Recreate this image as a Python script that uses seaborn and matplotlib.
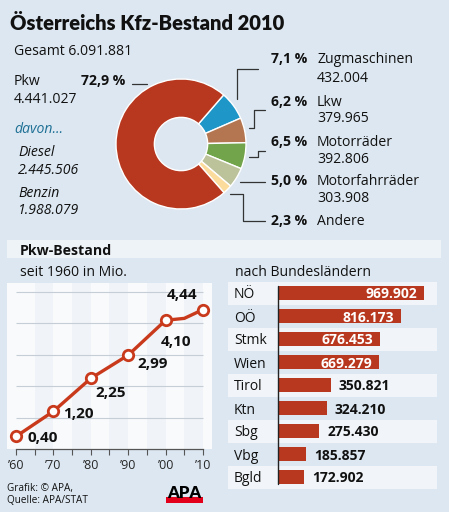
import matplotlib
matplotlib.use("Agg")
import matplotlib.pyplot as plt
import matplotlib.transforms as mtransforms
import seaborn as sns
import numpy as np

# ---------------- data ----------------
total_label = "Gesamt 6.091.881"
pie_names = ["Zugmaschinen", "Lkw", "Motorräder", "Motorfahrräder", "Andere", "Pkw"]
pie_pct = [7.1, 6.2, 6.5, 5.0, 2.3, 72.9]
pie_counts = ["432.004", "379.965", "392.806", "303.908", "", "4.441.027"]
diesel = "2.445.506"
benzin = "1.988.079"

years = [1960, 1970, 1980, 1985, 1990, 2000, 2005, 2010]
pkw_mio = [0.40, 1.20, 2.25, 2.62, 2.99, 4.10, 4.16, 4.44]
labelled = [True, True, True, False, True, True, False, True]
tick_years = [1960, 1970, 1980, 1990, 2000, 2010]
tick_labels = ["’60", "’70", "’80", "’90", "’00", "’10"]

states = ["NÖ", "OÖ", "Stmk", "Wien", "Tirol", "Ktn", "Sbg", "Vbg", "Bgld"]
state_pkw = [969902, 816173, 676453, 669279, 350821, 324210, 275430, 185857, 172902]

# ---------------- style ----------------
sns.set_theme(style="white")
plt.rcParams["font.family"] = ["Open Sans", "DejaVu Sans"]
TITLE_FONT = ["Lato", "DejaVu Sans"]

BG = "#dce7f1"
BAND = "#f1f5f9"
RED = "#b8381f"
LINE_RED = "#c93a1c"
pie_colors = ["#1e97c8", "#b37650", "#72a44b", "#bcc39b", "#fbdc9d", "#b8381f"]
W, H = 449, 512
FS = 10.1

fig = plt.figure(figsize=(W / 100, H / 100), dpi=100, facecolor=BG)


def rect(x0, y0, x1, y1):
    return [x0 / W, 1 - y1 / H, (x1 - x0) / W, (y1 - y0) / H]


def fmt(v):
    return f"{v:,}".replace(",", ".")


# ---------------- donut ----------------
axp = fig.add_axes(rect(116, 79, 246, 209))
axp.pie(pie_pct, colors=pie_colors, startangle=49, counterclock=False, radius=1,
        wedgeprops=dict(width=0.59, edgecolor="white", linewidth=1.0))
axp.set_xlim(-1, 1)
axp.set_ylim(-1, 1)
axp.axis("off")

# ---------------- line chart ----------------
axl = fig.add_axes(rect(7, 283, 212, 449))
axl.set_facecolor("#f8fafc")
x_left = 1960 - 9 / 3.74
x_right = 2010 + 9 / 3.74
axl.set_xlim(x_left, x_right)
axl.set_ylim(0, 166 / 31.4)
for s in range(1965, 2010, 10):
    axl.axvspan(s, s + 5, color="#f0f4f8", zorder=0, lw=0)
axl.hlines([1, 2, 3, 4, 5], 1960, 2010, color="#c5cdd6", lw=0.8, zorder=1)
mark_idx = [i for i, f in enumerate(labelled) if f]
sns.lineplot(x=years, y=pkw_mio, ax=axl, color=LINE_RED, lw=2.4, estimator=None,
             marker="o", markevery=mark_idx, markersize=7.5, markerfacecolor="white",
             markeredgecolor=LINE_RED, markeredgewidth=2.0, clip_on=False, zorder=3)
for sp in ["top", "right", "left"]:
    axl.spines[sp].set_visible(False)
axl.spines["bottom"].set_bounds(1960, 2010)
axl.spines["bottom"].set_color("#555555")
axl.spines["bottom"].set_linewidth(0.9)
axl.set_xticks(tick_years)
axl.set_xticklabels(tick_labels)
axl.set_xticks(list(range(1965, 2010, 10)), minor=True)
axl.tick_params(axis="x", which="both", direction="out", length=4, width=0.8,
                color="#555555", labelsize=9, pad=3, bottom=True)
axl.set_yticks([])
axl.set_xlabel("")
axl.set_ylabel("")

# label offsets (px) relative to each labelled point
offsets = [(12, 0, "left"), (10, -1, "left"), (5, -13, "left"), (9, -7.5, "left"),
           (-5, -20, "left"), (-6, 16.5, "right")]
lab_years = [y for y, f in zip(years, labelled) if f]
lab_vals = [v for v, f in zip(pkw_mio, labelled) if f]
for (yr, v), (dx, dy, ha) in zip(zip(lab_years, lab_vals), offsets):
    axl.annotate(f"{v:.2f}".replace(".", ","), (yr, v), xytext=(dx * 0.72, dy * 0.72),
                 textcoords="offset points", ha=ha, va="center_baseline",
                 fontsize=11, fontweight="bold", color="#111111", annotation_clip=False)

# ---------------- bar chart ----------------
axb = fig.add_axes(rect(228, 281.5, 437, 488.5))
axb.set_facecolor("none")
px_per = 0.1505 / 1000
sns.barplot(x=state_pkw, y=states, orient="h", color=RED, saturation=1, width=0.57,
            ax=axb, zorder=3, edgecolor="none")
axb.set_ylim(8.5, -0.5)
axb.set_xlim(-(278 - 228) / px_per, (437 - 278) / px_per)
for i in range(0, len(states), 2):
    axb.axhspan(i - 0.5, i + 0.5, color=BAND, zorder=0, lw=0)
axb.axvline(0, ymin=0.022, ymax=0.978, color="#222222", lw=1.0, zorder=4)
axb.axis("off")
tr = mtransforms.blended_transform_factory(axb.transAxes, axb.transData)
for i, (st, v) in enumerate(zip(states, state_pkw)):
    axb.text(6 / 209, i, st, transform=tr, ha="left", va="center_baseline",
             fontsize=10, color="#111111")
    if v > 500000:
        axb.annotate(fmt(v), (v, i), xytext=(-5, 0), textcoords="offset points",
                     ha="right", va="center_baseline", fontsize=10,
                     fontweight="bold", color="white", zorder=5)
    else:
        axb.annotate(fmt(v), (v, i), xytext=(5.8, 0), textcoords="offset points",
                     ha="left", va="center_baseline", fontsize=10,
                     fontweight="bold", color="#111111", zorder=5)

# ---------------- overlay (text, leader lines) ----------------
ov = fig.add_axes([0, 0, 1, 1])
ov.set_xlim(0, W)
ov.set_ylim(H, 0)
ov.axis("off")
ov.patch.set_alpha(0)

ov.text(10, 30, "Österreichs Kfz-Bestand 2010", fontsize=14.5, fontweight="heavy",
        family=TITLE_FONT, color="#111111", va="baseline")
ov.text(14, 55, total_label, fontsize=FS, color="#111111", va="baseline")
ov.text(14, 85, "Pkw", fontsize=FS, color="#111111", va="baseline")
ov.text(125, 85, f"{pie_pct[5]:.1f} %".replace(".", ","), fontsize=FS, fontweight="bold",
        ha="right", color="#111111", va="baseline")
ov.text(14, 103, pie_counts[5], fontsize=FS, color="#111111", va="baseline")
ov.text(14, 133, "davon...", fontsize=FS, style="italic", color="#1d6f94", va="baseline")
ov.text(18, 156, "Diesel", fontsize=FS, style="italic", color="#111111", va="baseline")
ov.text(18, 174, diesel, fontsize=FS, style="italic", color="#111111", va="baseline")
ov.text(18, 197, "Benzin", fontsize=FS, style="italic", color="#111111", va="baseline")
ov.text(18, 214, benzin, fontsize=FS, style="italic", color="#111111", va="baseline")
ov.plot([132, 147], [84, 84], color="#333333", lw=0.9)

name_base = [63, 106, 146, 185, 225]
count_base = [82, 122, 163, 202, None]
for i in range(5):
    ov.text(307, name_base[i], f"{pie_pct[i]:.1f} %".replace(".", ","), fontsize=FS,
            fontweight="bold", ha="right", color="#111111", va="baseline")
    ov.text(317, name_base[i], pie_names[i], fontsize=FS, color="#111111", va="baseline")
    if count_base[i] is not None:
        ov.text(317, count_base[i], pie_counts[i], fontsize=FS, color="#111111",
                va="baseline")

lc = dict(color="#333333", lw=0.9)
ov.plot([237, 237, 258], [99, 69, 69], **lc)
ov.plot([249, 254, 254, 265], [128, 128, 110, 110], **lc)
ov.plot([249, 258, 258, 265], [157, 157, 151, 151], **lc)
ov.plot([240, 265], [182, 182], **lc)
ov.plot([230, 243, 243, 265], [194, 194, 221, 221], **lc)

# lower section header band
ov.add_patch(plt.Rectangle((7, 240), 434, 18, color="#eef3f8", lw=0, zorder=0))
ov.text(20, 255, "Pkw-Bestand", fontsize=10.2, fontweight="bold", color="#111111",
        va="baseline")
ov.text(20, 276, "seit 1960 in Mio.", fontsize=FS, color="#111111", va="baseline")
ov.text(235, 276, "nach Bundesländern", fontsize=FS, color="#111111", va="baseline")

# footer
ov.text(7, 491, "Grafik: © APA,", fontsize=7.2, color="#111111", va="baseline")
ov.text(7, 503, "Quelle: APA/STAT", fontsize=7.2, color="#111111", va="baseline")
ov.add_patch(plt.Rectangle((166, 496.5), 37, 6, color="#e2001a", lw=0))
ov.text(184.5, 497.5, "APA", fontsize=12, fontweight="heavy", family=TITLE_FONT,
        color="#000000", ha="center", va="baseline")

fig.savefig("out.png", dpi=100, facecolor=BG)
